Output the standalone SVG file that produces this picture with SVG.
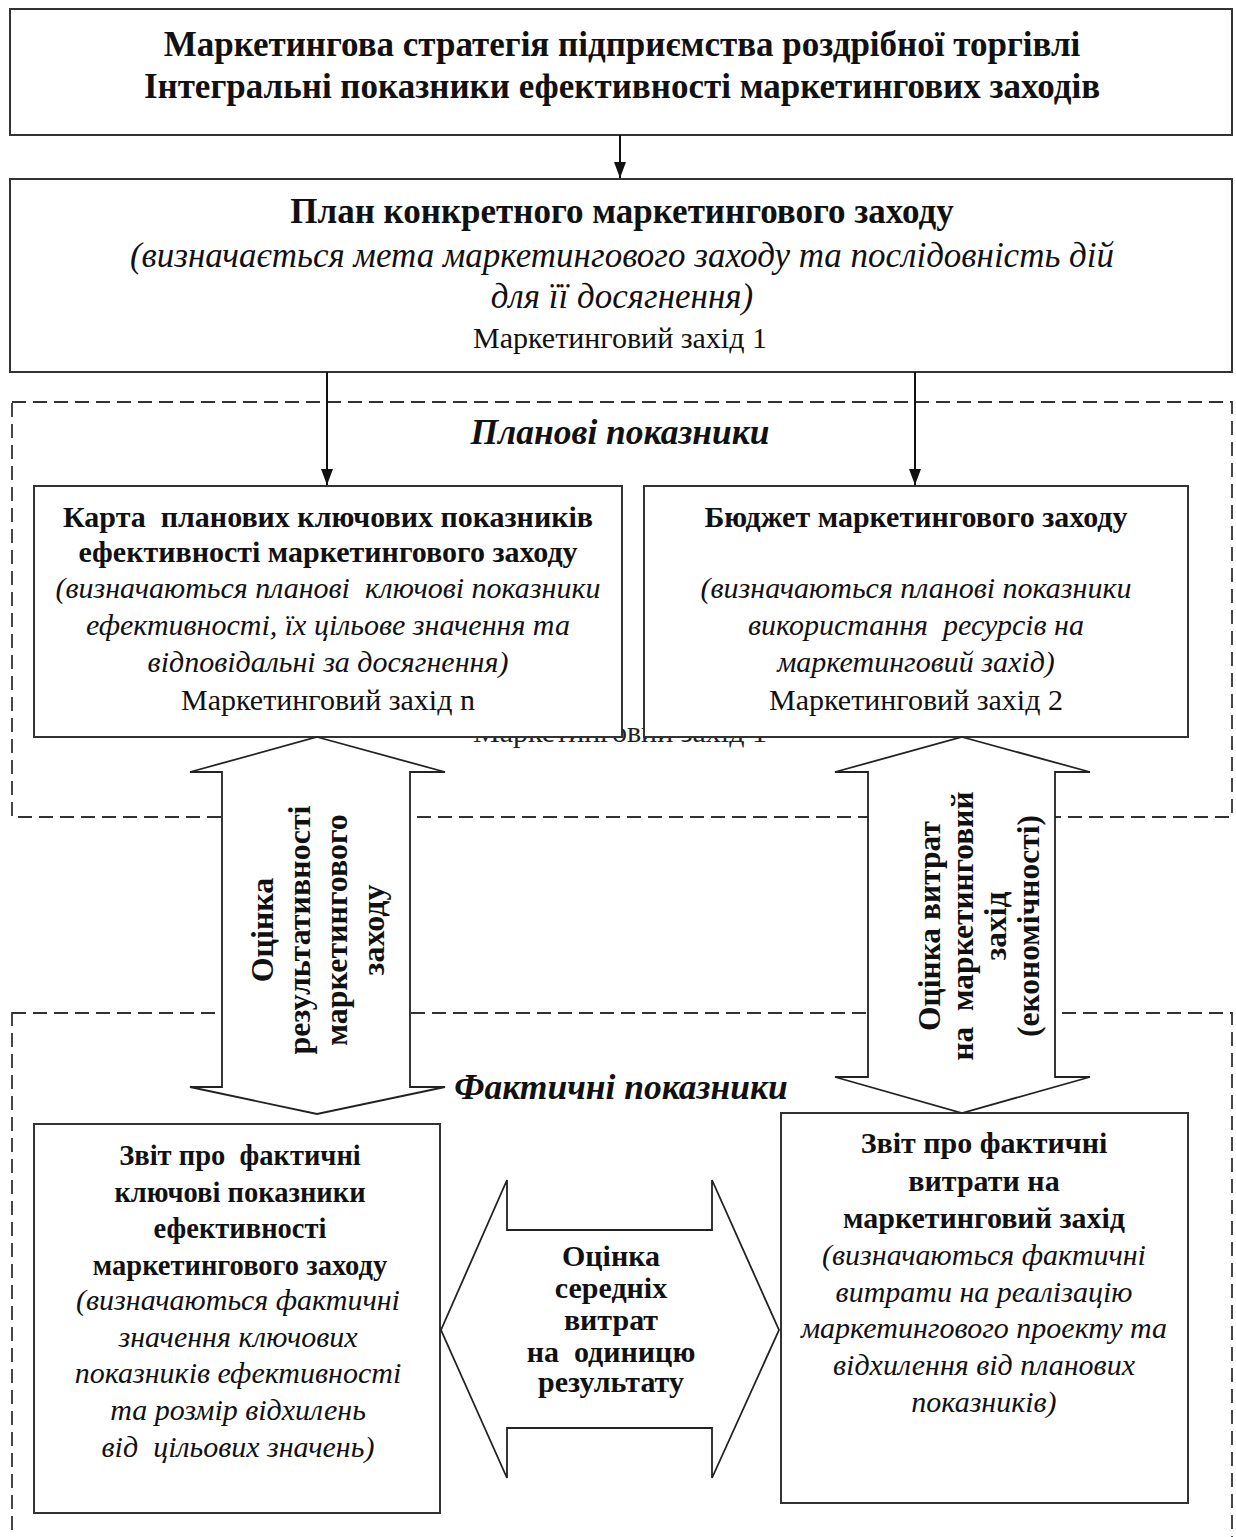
<svg xmlns="http://www.w3.org/2000/svg" width="1236" height="1537" viewBox="0 0 1236 1537">
<style>
text{font-family:"Liberation Serif","Times New Roman",serif;fill:#111;text-anchor:middle;white-space:pre}
.t{font-size:35px;font-weight:bold}
.i2{font-size:35px;font-style:italic}
.b{font-size:30px;font-weight:bold}
.bs{font-size:28.5px;font-weight:bold}
.i{font-size:30px;font-style:italic}
.r{font-size:30px}
.h{font-size:35.5px;font-weight:bold;font-style:italic}
.v1{font-size:32px;font-weight:bold}
.v2{font-size:31.5px;font-weight:bold}
.box{fill:#fff;stroke:#333;stroke-width:2}
.dash{fill:none;stroke:#333;stroke-width:1.8;stroke-dasharray:14 7}
.dbl{fill:#fff;stroke:#222;stroke-width:1.8;stroke-linejoin:miter}
.ln{stroke:#111;stroke-width:2;fill:none}
.ghost{font-size:30px;fill:#222}
</style>
<defs>
<marker id="ah" markerWidth="16" markerHeight="12" refX="16" refY="6" orient="auto" markerUnits="userSpaceOnUse" viewBox="0 0 16 12">
<path d="M0,0 L16,6 L0,12 Z" fill="#111"/>
</marker>
</defs>
<rect width="1236" height="1537" fill="#fff"/>

<g id="frames">
<rect id="plan-frame" class="dash" x="12" y="402" width="1220" height="415"/>
<rect id="fact-frame" class="dash" x="12" y="1013" width="1220" height="540"/>
</g>

<text class="ghost" x="620" y="742">Маркетинговий захід 1</text>

<g id="strategy">
<rect class="box" x="10" y="9" width="1222" height="126"/>
<text class="t" x="622" y="56">Маркетингова стратегія підприємства роздрібної торгівлі</text>
<text class="t" x="622" y="98">Інтегральні показники ефективності маркетингових заходів</text>
</g>

<g id="plan">
<rect class="box" x="10" y="179" width="1222" height="193"/>
<text class="t" x="622" y="223">План конкретного маркетингового заходу</text>
<text class="i2" x="622" y="267">(визначається мета маркетингового заходу та послідовність дій</text>
<text class="i2" x="622" y="308">для її досягнення)</text>
<text class="r" x="620" y="348">Маркетинговий захід 1</text>
</g>

<text id="plan-label" class="h" x="620" y="444">Планові показники</text>

<g id="kpi-map">
<rect class="box" x="34" y="486" width="588" height="251"/>
<text class="b" x="328" y="527">Карта  планових ключових показників</text>
<text class="b" x="328" y="562">ефективності маркетингового заходу</text>
<text class="i" x="328" y="598">(визначаються планові  ключові показники</text>
<text class="i" x="328" y="635">ефективності, їх цільове значення та</text>
<text class="i" x="328" y="672">відповідальні за досягнення)</text>
<text class="r" x="328" y="710">Маркетинговий захід n</text>
</g>

<g id="budget">
<rect class="box" x="644" y="486" width="544" height="251"/>
<text class="b" x="916" y="527">Бюджет маркетингового заходу</text>
<text class="i" x="916" y="598">(визначаються планові показники</text>
<text class="i" x="916" y="635">використання  ресурсів на</text>
<text class="i" x="916" y="672">маркетинговий захід)</text>
<text class="r" x="916" y="710">Маркетинговий захід 2</text>
</g>

<text id="fact-label" class="h" x="621" y="1099">Фактичні показники</text>

<g id="kpi-report">
<rect class="box" x="34" y="1124" width="406" height="389"/>
<text class="bs" x="240" y="1165">Звіт про  фактичні</text>
<text class="bs" x="240" y="1202">ключові показники</text>
<text class="bs" x="240" y="1238">ефективності</text>
<text class="bs" x="240" y="1275">маркетингового заходу</text>
<text class="i" x="238" y="1310">(визначаються фактичні</text>
<text class="i" x="238" y="1347">значення ключових</text>
<text class="i" x="238" y="1383">показників ефективності</text>
<text class="i" x="238" y="1420">та розмір відхилень</text>
<text class="i" x="238" y="1457">від  цільових значень)</text>
</g>

<g id="cost-report">
<rect class="box" x="781" y="1113" width="407" height="390"/>
<text class="b" x="984" y="1153">Звіт про фактичні</text>
<text class="b" x="984" y="1191">витрати на</text>
<text class="b" x="984" y="1228">маркетинговий захід</text>
<text class="i" x="984" y="1265">(визначаються фактичні</text>
<text class="i" x="984" y="1302">витрати на реалізацію</text>
<text class="i" x="984" y="1338">маркетингового проекту та</text>
<text class="i" x="984" y="1375">відхилення від планових</text>
<text class="i" x="984" y="1412">показників)</text>
</g>

<g id="connectors">
<line class="ln" x1="620" y1="135" x2="620" y2="178" marker-end="url(#ah)"/>
<line class="ln" x1="327" y1="372" x2="327" y2="485" marker-end="url(#ah)"/>
<line class="ln" x1="915" y1="372" x2="915" y2="485" marker-end="url(#ah)"/>
</g>

<g id="eval-result">
<path class="dbl" d="M317,737 L445,772 L410,772 L410,1087 L445,1087 L317,1114 L190,1087 L222,1087 L222,772 L190,772 Z"/>
<g transform="translate(317,930) rotate(-90)">
<text class="v1" x="0" y="-55.5" dominant-baseline="central">Оцінка</text>
<text class="v1" x="0" y="-18.5" dominant-baseline="central">результативності</text>
<text class="v1" x="0" y="18.5" dominant-baseline="central">маркетингового</text>
<text class="v1" x="0" y="55.5" dominant-baseline="central">заходу</text>
</g>
</g>

<g id="eval-cost">
<path class="dbl" d="M962,737 L1090,772 L1055,772 L1055,1077 L1090,1077 L962,1113 L835,1077 L868,1077 L868,772 L835,772 Z"/>
<g transform="translate(979,926) rotate(-90)">
<text class="v2" x="0" y="-49.5" dominant-baseline="central">Оцінка витрат</text>
<text class="v2" x="0" y="-16.5" dominant-baseline="central">на  маркетинговий</text>
<text class="v2" x="0" y="16.5" dominant-baseline="central">захід</text>
<text class="v2" x="0" y="49.5" dominant-baseline="central">(економічності)</text>
</g>
</g>

<g id="eval-unit">
<path class="dbl" d="M441,1330 L507,1180 L507,1230 L712,1230 L712,1180 L779,1330 L712,1478 L712,1428 L507,1428 L507,1478 Z"/>
<text class="b" x="611" y="1266">Оцінка</text>
<text class="b" x="611" y="1298">середніх</text>
<text class="b" x="611" y="1330">витрат</text>
<text class="b" x="611" y="1362">на  одиницю</text>
<text class="b" x="611" y="1392">результату</text>
</g>
</svg>
